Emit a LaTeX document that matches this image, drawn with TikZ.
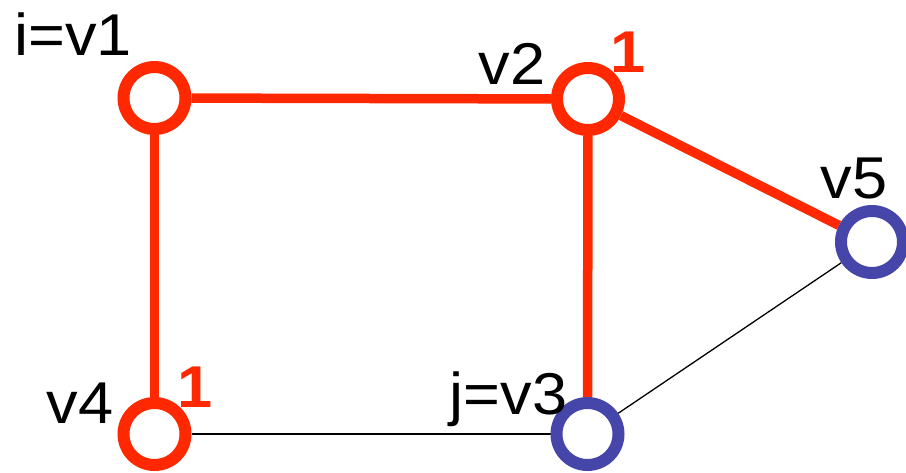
\documentclass[tikz,border=0pt]{standalone}
\usepackage{fontspec}
\setmainfont{Liberation Sans}
\usetikzlibrary{backgrounds}
\definecolor{nred}{RGB}{255,40,0}
\definecolor{nblue}{RGB}{70,70,170}
\begin{document}
\begin{tikzpicture}[x=1pt,y=-1pt,
  vert/.style={circle,draw,fill=white,line width=12pt,minimum size=62pt,inner sep=0pt},
  redv/.style={vert,draw=nred},
  bluev/.style={vert,draw=nblue},
  redge/.style={draw=nred,line width=9.5pt},
  tedge/.style={draw=black,line width=1.3pt},
  lab/.style={anchor=base west,inner sep=0pt,font=\fontsize{59}{60}\selectfont},
  num/.style={lab,text=nred,font=\fontsize{59}{60}\selectfont\bfseries}]
\useasboundingbox (0,0) rectangle (906,472);
\node[redv] (v1) at (154.5,98) {};
\node[redv] (v2) at (588,99) {};
\node[bluev] (v3) at (587.5,434) {};
\node[redv] (v4) at (154.5,434) {};
\node[bluev] (v5) at (872,242) {};
\begin{scope}[on background layer]
\draw[redge] (v1) -- (v2);
\draw[redge] (v1) -- (v4);
\draw[redge] (v2) -- (v3);
\draw[redge] (v2) -- (v5);
\draw[tedge] (v4) -- (v3);
\draw[tedge] (v3) -- (v5);
\end{scope}
\node[lab] (l1) at (14,55) {\scalebox{1.07}[1]{i=v1}};
\node[lab] (l2) at (478.5,84) {\scalebox{1.07}[1]{v2}};
\node[lab] (l5) at (820.5,198) {\scalebox{1.07}[1]{v5}};
\node[lab] (l4) at (46.5,423) {\scalebox{1.07}[1]{v4}};
\node[lab] (l3) at (449.5,414) {\scalebox{1.07}[1]{j=v3}};
\node[num] (n2) at (610.5,72) {\scalebox{1.07}[1]{1}};
\node[num] (n4) at (177.5,407) {\scalebox{1.07}[1]{1}};
\end{tikzpicture}
\end{document}
